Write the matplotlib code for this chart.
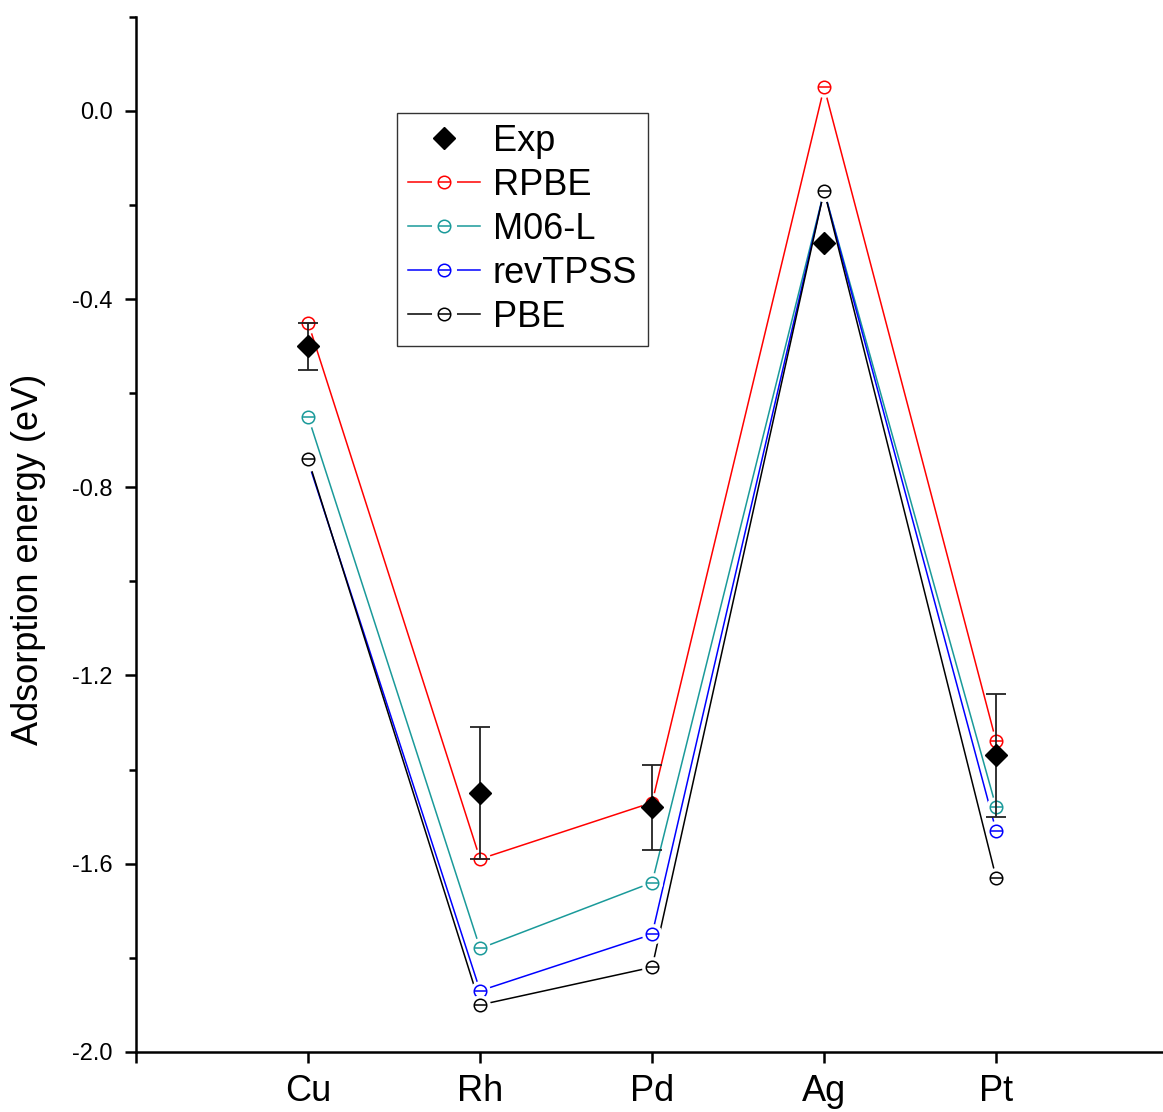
import numpy as np
import matplotlib.pyplot as plt
from matplotlib.lines import Line2D

plt.rcParams['font.family'] = ['Liberation Sans', 'DejaVu Sans']

metals = ['Cu', 'Rh', 'Pd', 'Ag', 'Pt']
exp_vals = [-0.50, -1.45, -1.48, -0.28, -1.37]
exp_err = [0.05, 0.14, 0.09, 0.0, 0.13]
rpbe = [-0.45, -1.59, -1.47, 0.05, -1.34]
m06l = [-0.65, -1.78, -1.64, -0.17, -1.48]
revtpss = [-0.745, -1.87, -1.75, -0.17, -1.53]
pbe = [-0.74, -1.90, -1.82, -0.17, -1.63]

series = [('RPBE', rpbe, '#ff0000'),
          ('M06-L', m06l, '#1a9a9a'),
          ('revTPSS', revtpss, '#0000ff'),
          ('PBE', pbe, '#000000')]

x = np.arange(1, len(metals) + 1)

fig = plt.figure(figsize=(11.63, 11.12), dpi=100)
ax = fig.add_axes([0.117, 0.054, 0.883, 0.931])

ms = 9
for name, vals, col in series:
    ax.plot(x, vals, '-', color=col, lw=1.1, zorder=2)
# white halo under each marker gives the little gap Origin leaves around symbols
for i, (name, vals, col) in enumerate(series):
    z = 3 + i * 0.1
    ax.plot(x, vals, 'o', ms=ms + 5, mfc='white', mec='white', zorder=z)
    ax.plot(x, vals, 'o', ms=ms, mfc='white', mec=col, mew=1.1, zorder=z + 0.01)
    ax.plot(x, vals, '_', ms=ms, mec=col, mew=1.1, zorder=z + 0.02)

ax.errorbar(x, exp_vals, yerr=exp_err, fmt='D', color='black', ms=11,
            ecolor='#222222', elinewidth=1.3, capsize=7, capthick=1.3, zorder=6)

handles = [Line2D([], [], ls='none', marker='D', color='black', ms=11)]
labels = ['Exp']
for name, vals, col in series:
    h = (Line2D([], [], color=col, lw=1.1),
         Line2D([], [], ls='none', marker='o', ms=ms + 8, mfc='white', mec='white'),
         Line2D([], [], ls='none', marker='o', ms=ms, mfc='white', mec=col, mew=1.1),
         Line2D([], [], ls='none', marker='_', ms=ms, mec=col, mew=1.1))
    handles.append(h)
    labels.append(name)

leg = ax.legend(handles, labels, loc='upper left', bbox_to_anchor=(0.254, 0.907),
                fontsize=26, frameon=True, fancybox=False, edgecolor='black',
                handlelength=2.0, handletextpad=0.35, labelspacing=0.25,
                borderpad=0.3, borderaxespad=0)
leg.get_frame().set_linewidth(1.0)

ax.set_xlim(0, 5.97)
ax.set_ylim(-2.0, 0.2)
ax.set_xticks([0] + list(x))
ax.set_xticklabels([''] + metals, fontsize=26)
yt = np.round(np.arange(-2.0, 0.01, 0.4), 1)
ax.set_yticks(yt)
ax.set_yticklabels(['%.1f' % (v + 0.0) for v in yt], fontsize=17)
ax.set_yticks(np.round(np.arange(-1.8, 0.21, 0.4), 1), minor=True)
ax.tick_params(axis='both', which='major', direction='out', length=8, width=1.8)
ax.tick_params(axis='y', which='minor', direction='out', length=5, width=1.8)
ax.tick_params(axis='y', pad=9)
ax.tick_params(axis='x', pad=8)
ax.set_ylabel('Adsorption energy (eV)', fontsize=26)
ax.yaxis.set_label_coords(-0.088, 0.476)

for s in ['top', 'right']:
    ax.spines[s].set_visible(False)
for s in ['left', 'bottom']:
    ax.spines[s].set_linewidth(1.8)

fig.savefig('out.png', dpi=100)
